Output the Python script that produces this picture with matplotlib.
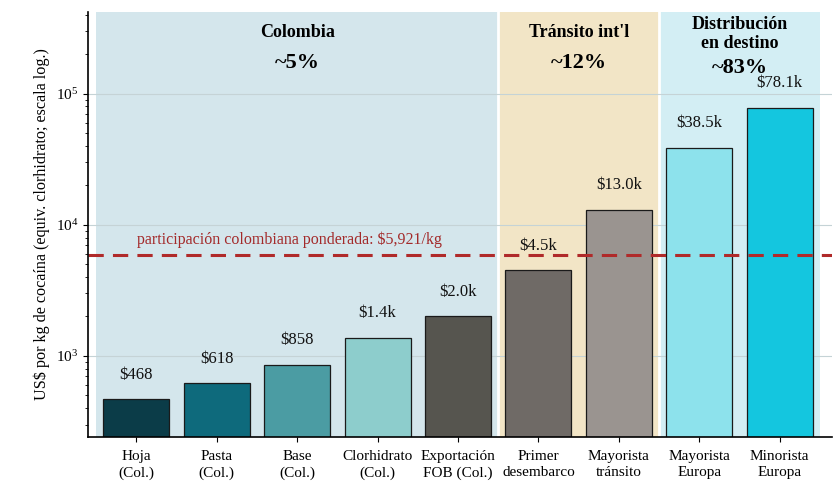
import matplotlib
matplotlib.use("Agg")
import matplotlib.pyplot as plt
import numpy as np

plt.rcParams['font.family'] = ['Liberation Serif', 'DejaVu Serif']

categories = ["Hoja\n(Col.)", "Pasta\n(Col.)", "Base\n(Col.)", "Clorhidrato\n(Col.)",
              "Exportación\nFOB (Col.)", "Primer\ndesembarco", "Mayorista\ntránsito",
              "Mayorista\nEuropa", "Minorista\nEuropa"]
values = [468, 618, 858, 1370, 2000, 4500, 13000, 38500, 78100]
value_labels = ["$468", "$618", "$858", "$1.4k", "$2.0k", "$4.5k", "$13.0k", "$38.5k", "$78.1k"]
bar_colors = ["#0b3c48", "#0e6a7c", "#4b9ca3", "#8dcdcc", "#56554f",
              "#6f6a66", "#9a9490", "#8de2ec", "#14c6df"]
weighted = 5921
weighted_label = "participación colombiana ponderada: $5,921/kg"
section_names = ["Colombia", "Tránsito int'l", "Distribución\nen destino"]
section_shares = ["~5%", "~12%", "~83%"]
section_bounds = [(-0.5, 4.5), (4.5, 6.5), (6.5, 8.5)]
section_colors = ["#d4e6ec", "#f2e5c6", "#d3eef4"]

fig = plt.figure(figsize=(8.38, 4.95), dpi=100)
ax = fig.add_axes([88/838, 58/495, (832-88)/838, (437-12)/495])
ax.set_yscale('log')
ax.set_xlim(-0.6, 8.65)
ax.set_ylim(241, 4.2e5)

for (x0, x1), col in zip(section_bounds, section_colors):
    ax.axvspan(x0, x1, color=col, zorder=0, lw=0)
for xb in [4.5, 6.5]:
    ax.axvline(xb, color='white', lw=2, zorder=0.5)

for yv in [1e3, 1e4, 1e5]:
    ax.axhline(yv, color='#c5d3d6', lw=0.8, zorder=0.6)

x = np.arange(len(values))
ax.bar(x, values, width=0.82, color=bar_colors, edgecolor='#1a1a1a', linewidth=0.9, zorder=2)
for xi, v, lab in zip(x, values, value_labels):
    ax.annotate(lab, (xi, v), xytext=(0, 12), textcoords='offset points',
                ha='center', va='bottom', fontsize=12, color='#111111', zorder=3)

ax.axhline(weighted, color='#b02a2a', lw=2.2, ls=(0, (5, 3)), zorder=2.5)
ax.text(1.9, weighted * 1.12, weighted_label, ha='center', va='bottom',
        fontsize=11.5, color='#a32a2a', zorder=3)

tr = ax.get_xaxis_transform()
for name, pct, (x0, x1) in zip(section_names, section_shares, section_bounds):
    xc = (x0 + x1) / 2
    if "\n" in name:
        ax.text(xc, 0.948, name, transform=tr, ha='center', va='center',
                fontsize=13, fontweight='bold', linespacing=1.2)
        ax.text(xc, 0.869, pct, transform=tr, ha='center', va='center',
                fontsize=16, fontweight='bold')
    else:
        ax.text(xc, 0.951, name, transform=tr, ha='center', va='center',
                fontsize=13, fontweight='bold')
        ax.text(xc, 0.88, pct, transform=tr, ha='center', va='center',
                fontsize=16, fontweight='bold')

ax.set_xticks(x)
ax.set_xticklabels(categories, fontsize=11, linespacing=1.3)
ax.tick_params(axis='x', pad=6)
ax.tick_params(axis='y', labelsize=11)
ax.set_ylabel("US$ por kg de cocaína (equiv. clorhidrato; escala log.)", fontsize=11.6)
for s in ['top', 'right']:
    ax.spines[s].set_visible(False)
ax.spines['left'].set_linewidth(1.2)
ax.spines['bottom'].set_linewidth(1.2)

fig.savefig("out.png", dpi=100, facecolor='white')
